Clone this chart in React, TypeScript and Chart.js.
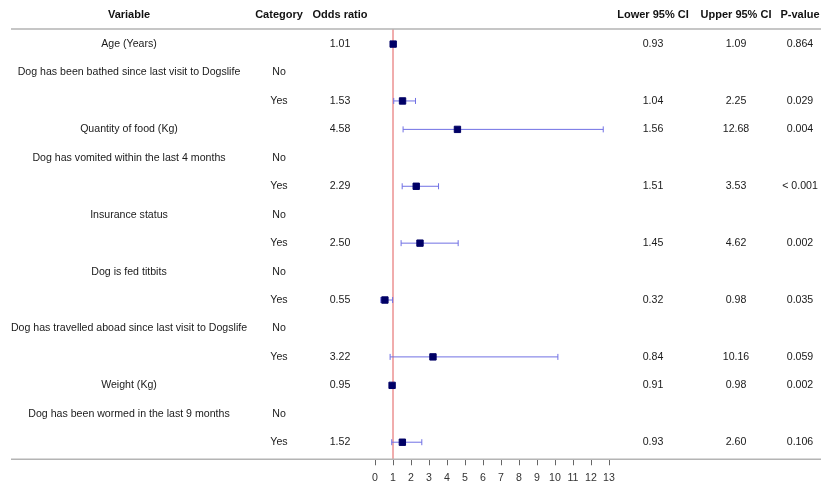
import React, { useEffect, useRef } from "react";
import { Chart, registerables } from "chart.js";

Chart.register(...registerables);

const variables: string[] = [
  "Age (Years)",
  "Dog has been bathed since last visit to Dogslife",
  "",
  "Quantity of food (Kg)",
  "Dog has vomited within the last 4 months",
  "",
  "Insurance status",
  "",
  "Dog is fed titbits",
  "",
  "Dog has travelled aboad since last visit to Dogslife",
  "",
  "Weight (Kg)",
  "Dog has been wormed in the last 9 months",
  "",
];
const categories: string[] = ["", "No", "Yes", "", "No", "Yes", "No", "Yes", "No", "Yes", "No", "Yes", "", "No", "Yes"];
const oddsRatios: (number | null)[] = [1.01, null, 1.53, 4.58, null, 2.29, null, 2.5, null, 0.55, null, 3.22, 0.95, null, 1.52];
const lowerCI: (number | null)[] = [0.93, null, 1.04, 1.56, null, 1.51, null, 1.45, null, 0.32, null, 0.84, 0.91, null, 0.93];
const upperCI: (number | null)[] = [1.09, null, 2.25, 12.68, null, 3.53, null, 4.62, null, 0.98, null, 10.16, 0.98, null, 2.6];
const pValues: string[] = ["0.864", "", "0.029", "0.004", "", "< 0.001", "", "0.002", "", "0.035", "", "0.059", "0.002", "", "0.106"];
const headers: string[] = ["Variable", "Category", "Odds ratio", "Lower 95% CI", "Upper 95% CI", "P-value"];
const xTicks: number[] = [0, 1, 2, 3, 4, 5, 6, 7, 8, 9, 10, 11, 12, 13];

const FONT = "'Liberation Sans', Arial, Helvetica, sans-serif";
const colX = [129, 279, 340, 653, 736, 800];

export default function App() {
  const ref = useRef<HTMLCanvasElement | null>(null);
  useEffect(() => {
    if (!ref.current) return;
    const n = variables.length;
    const points = oddsRatios
      .map((v, i) => (v === null ? null : { x: v, y: i }))
      .filter((p) => p !== null) as { x: number; y: number }[];

    const tablePlugin = {
      id: "forestTable",
      beforeDatasetsDraw(chart: any) {
        const ctx = chart.ctx as CanvasRenderingContext2D;
        const xs = chart.scales.x;
        const ys = chart.scales.y;
        const area = chart.chartArea;
        ctx.save();
        const x1 = xs.getPixelForValue(1);
        ctx.strokeStyle = "#e25a5a";
        ctx.lineWidth = 1;
        ctx.beginPath();
        ctx.moveTo(x1, area.top);
        ctx.lineTo(x1, area.bottom);
        ctx.stroke();
        ctx.strokeStyle = "#7070e4";
        ctx.lineWidth = 1;
        for (let i = 0; i < n; i++) {
          const lo = lowerCI[i];
          const hi = upperCI[i];
          if (lo === null || hi === null) continue;
          const y = ys.getPixelForValue(i);
          const a = xs.getPixelForValue(lo);
          const b = xs.getPixelForValue(hi);
          ctx.beginPath();
          ctx.moveTo(a, y);
          ctx.lineTo(b, y);
          ctx.moveTo(a, y - 3);
          ctx.lineTo(a, y + 3);
          ctx.moveTo(b, y - 3);
          ctx.lineTo(b, y + 3);
          ctx.stroke();
        }
        ctx.restore();
      },
      afterDraw(chart: any) {
        const ctx = chart.ctx as CanvasRenderingContext2D;
        const ys = chart.scales.y;
        const area = chart.chartArea;
        ctx.save();
        ctx.strokeStyle = "#b4b4b4";
        ctx.lineWidth = 1.5;
        ctx.beginPath();
        ctx.moveTo(11, area.top);
        ctx.lineTo(821, area.top);
        ctx.moveTo(11, area.bottom);
        ctx.lineTo(821, area.bottom);
        ctx.stroke();
        ctx.fillStyle = "#111";
        ctx.textAlign = "center";
        ctx.textBaseline = "middle";
        ctx.font = `bold 11px ${FONT}`;
        headers.forEach((h, k) => ctx.fillText(h, colX[k], 15));
        ctx.font = `10.6px ${FONT}`;
        ctx.fillStyle = "#1a1a1a";
        for (let i = 0; i < n; i++) {
          const y = ys.getPixelForValue(i);
          const or = oddsRatios[i];
          const lo = lowerCI[i];
          const hi = upperCI[i];
          const cells = [
            variables[i],
            categories[i],
            or === null ? "" : or.toFixed(2),
            lo === null ? "" : lo.toFixed(2),
            hi === null ? "" : hi.toFixed(2),
            pValues[i],
          ];
          cells.forEach((c, k) => {
            if (c) ctx.fillText(c, colX[k], y);
          });
        }
        ctx.restore();
      },
    };

    const chart = new Chart(ref.current, {
      type: "scatter",
      data: {
        datasets: [
          {
            data: points,
            pointStyle: "rect",
            radius: 4.5,
            borderWidth: 1,
            backgroundColor: "#000066",
            borderColor: "#000066",
          },
        ],
      },
      options: {
        animation: false,
        responsive: false,
        events: [],
        layout: { padding: { left: 375, right: 216, top: 29, bottom: -1 } },
        plugins: { legend: { display: false }, tooltip: { enabled: false } },
        scales: {
          x: {
            type: "linear",
            min: xTicks[0],
            max: xTicks[xTicks.length - 1],
            afterBuildTicks: (axis: any) => {
              axis.ticks = xTicks.map((v) => ({ value: v }));
            },
            ticks: {
              font: { size: 10.6, family: FONT },
              color: "#333",
              padding: 6,
              maxRotation: 0,
            },
            grid: { drawOnChartArea: false, drawTicks: true, tickLength: 6, color: "#666" },
            border: { display: false },
          },
          y: {
            type: "linear",
            reverse: true,
            min: -0.53,
            max: n - 0.4,
            display: false,
          },
        },
      },
      plugins: [tablePlugin],
    } as any);
    return () => chart.destroy();
  }, []);

  return (
    <div style={{ position: "fixed", left: 0, top: 0, width: 825, height: 489, background: "#fff" }}>
      <canvas ref={ref} width={825} height={489} />
    </div>
  );
}
